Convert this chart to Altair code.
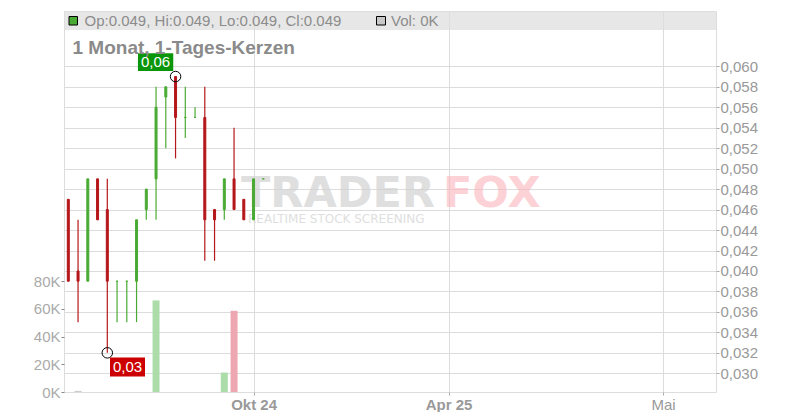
import altair as alt
import pandas as pd

# ---------------- data ----------------
idx = list(range(21))
opens  = [0.047, 0.040, 0.039, 0.049, 0.046, 0.039, 0.039, 0.039, 0.046, 0.049, 0.057,
          0.059, 0.055, 0.055, 0.055, 0.046, 0.046, 0.049, 0.047, 0.045, 0.049]
highs  = [0.047, 0.045, 0.049, 0.049, 0.049, 0.039, 0.039, 0.045, 0.048, 0.058, 0.058,
          0.059, 0.058, 0.056, 0.058, 0.046, 0.049, 0.054, 0.047, 0.049, 0.049]
lows   = [0.039, 0.035, 0.039, 0.045, 0.032, 0.035, 0.035, 0.035, 0.045, 0.045, 0.052,
          0.051, 0.053, 0.055, 0.041, 0.041, 0.045, 0.046, 0.045, 0.045, 0.049]
closes = [0.039, 0.039, 0.049, 0.045, 0.039, 0.039, 0.039, 0.045, 0.048, 0.056, 0.058,
          0.055, 0.055, 0.055, 0.045, 0.045, 0.049, 0.046, 0.045, 0.049, 0.049]
volumes = [0, 800, 0, 0, 0, 0, 0, 0, 0, 66000, 0, 0, 0, 0, 0, 0, 14000, 58500, 0, 0, 0]
vol_kind = ["flat", "flat", "up", "down", "down", "up", "up", "up", "up", "up", "up",
            "down", "up", "up", "down", "down", "up", "down", "down", "up", "up"]

price_ticks = [0.030, 0.032, 0.034, 0.036, 0.038, 0.040, 0.042, 0.044, 0.046, 0.048,
               0.050, 0.052, 0.054, 0.056, 0.058, 0.060]
vol_ticks = [0, 20000, 40000, 60000, 80000]
x_tick_pos = [19, 39, 61]
x_tick_labels = ["Okt 24", "Apr 25", "Mai"]
x_tick_bold = [True, True, False]

marker_idx = [11, 4]
marker_price = [0.059, 0.032]
marker_text = ["0,06", "0,03"]

legend_text = "Op:0.049, Hi:0.049, Lo:0.049, Cl:0.049"
vol_legend_text = "Vol: 0K"
title_text = "1 Monat, 1-Tages-Kerzen"

GREEN = "#4aab34"
RED = "#b5171b"

df = pd.DataFrame({"i": idx, "open": opens, "high": highs, "low": lows,
                   "close": closes, "vol": volumes, "vk": vol_kind})
df["dir"] = ["up" if c >= o else "down" for o, c in zip(opens, closes)]
df["btop"] = df[["open", "close"]].max(axis=1)
df["bbot"] = df[["open", "close"]].min(axis=1)

mk = pd.DataFrame({"i": marker_idx, "p": marker_price, "t": marker_text})
mk_hi = mk.iloc[[0]]
mk_lo = mk.iloc[[1]]

W, H = 652, 381

# ---------------- scales / axes ----------------
label_expr = " : ".join(
    f"datum.value == {p} ? '{l}'" for p, l in zip(x_tick_pos[:-1], x_tick_labels[:-1])
) + f" : '{x_tick_labels[-1]}'"
bold_test = " || ".join(f"datum.value == {p}" for p, b in zip(x_tick_pos, x_tick_bold) if b)

x_axis = alt.Axis(values=x_tick_pos, labelExpr=label_expr, title=None, grid=True,
                  gridColor="#dcdcdc", domain=False, tickColor="#aaaaaa", tickSize=3,
                  labelColor="#999999", labelFontSize=15, labelPadding=2,
                  labelFont="Liberation Sans",
                  labelFontWeight=alt.condition(bold_test, alt.value("bold"), alt.value("normal")))
x_scale = alt.Scale(domain=[-0.441, 66.43], nice=False, zero=False, padding=0)


def X():
    return alt.X("i:Q", scale=x_scale, axis=x_axis)


price_axis = alt.Axis(orient="right", values=price_ticks, title=None, grid=True,
                      gridColor="#dcdcdc", domain=False, tickColor="#aaaaaa", tickSize=3,
                      labelPadding=1, labelColor="#999999", labelFontSize=15,
                      labelFont="Liberation Sans",
                      labelExpr="replace(format(datum.value, '.3f'), '.', ',')")
price_scale = alt.Scale(domain=[0.028173, 0.065404], nice=False, zero=False, padding=0)


def Y(field):
    return alt.Y(field, scale=price_scale, axis=price_axis)


dir_color = alt.Scale(domain=["up", "down"], range=[GREEN, RED])

base = alt.Chart(df)

wicks = base.mark_bar(size=1.2, opacity=1).encode(
    x=X(), y=Y("low:Q"), y2="high:Q",
    fill=alt.Fill("dir:N", scale=dir_color, legend=None))

bodies = base.mark_bar(size=2, strokeWidth=1, opacity=1).encode(
    x=X(), y=Y("btop:Q"), y2="bbot:Q",
    fill=alt.Fill("dir:N", scale=dir_color, legend=None),
    stroke=alt.Stroke("dir:N", scale=dir_color, legend=None))

circles = alt.Chart(mk).mark_point(shape="circle", size=110, filled=False,
                                   stroke="black", strokeWidth=1, opacity=1).encode(
    x=X(), y=Y("p:Q"))

hi_box = alt.Chart(mk_hi).mark_rect(color="#0a960a", xOffset=-37.6, x2Offset=-2.3,
                                    yOffset=-23.2, y2Offset=-5.5).encode(
    x=X(), x2="i:Q", y=Y("p:Q"), y2="p:Q")
hi_txt = alt.Chart(mk_hi).mark_text(color="white", fontSize=15, font="Liberation Sans",
                                    dx=-20, dy=-14.4, baseline="middle").encode(
    x=X(), y=Y("p:Q"), text="t:N")

lo_box = alt.Chart(mk_lo).mark_rect(color="#cc0000", xOffset=2.7, x2Offset=37.7,
                                    yOffset=4.7, y2Offset=23.7).encode(
    x=X(), x2="i:Q", y=Y("p:Q"), y2="p:Q")
lo_txt = alt.Chart(mk_lo).mark_text(color="white", fontSize=15, font="Liberation Sans",
                                    dx=20.2, dy=14.2, baseline="middle").encode(
    x=X(), y=Y("p:Q"), text="t:N")

price_group = alt.layer(wicks, bodies, circles, hi_box, hi_txt, lo_box, lo_txt)

vol_scale = alt.Scale(domain=[0, 274600], nice=False, zero=True, padding=0)
vol_axis = alt.Axis(orient="left", values=vol_ticks, title=None, grid=False, domain=False,
                    tickColor="#888888", tickSize=3, labelPadding=1, labelColor="#aaaaaa",
                    labelFontSize=15, labelFont="Liberation Sans",
                    labelExpr="(datum.value / 1000) + 'K'")
vol_color = alt.Scale(domain=["up", "down", "flat"], range=["#abdca9", "#eca7b0", "#cccccc"])
vol_bars = base.mark_bar(size=7).encode(
    x=X(), y=alt.Y("vol:Q", scale=vol_scale, axis=vol_axis),
    color=alt.Color("vk:N", scale=vol_color, legend=None))

# ---------------- decorations ----------------
one = alt.Data(values=[{"a": 1}])
wm_trader = alt.Chart(one).mark_text(text="TRADER", font="DejaVu Sans", fontWeight="bold",
                                     fontSize=43, color="#d2d2d2", opacity=0.7,
                                     align="left", baseline="alphabetic").encode(
    x=alt.value(177), y=alt.value(196))
wm_fox = alt.Chart(one).mark_text(text="FOX", font="DejaVu Sans", fontWeight="bold",
                                  fontSize=43, color="#fbb5bc", opacity=0.6,
                                  align="left", baseline="alphabetic").encode(
    x=alt.value(379), y=alt.value(196))
wm_sub = alt.Chart(one).mark_text(text="REALTIME STOCK SCREENING", font="DejaVu Sans",
                                  fontSize=12, color="#d2d2d2", opacity=0.7,
                                  align="left", baseline="alphabetic").encode(
    x=alt.value(184), y=alt.value(212))

band = alt.Chart(one).mark_rect(fill="#dedede", opacity=0.72).encode(
    x=alt.value(0), x2=alt.value(W), y=alt.value(0), y2=alt.value(19))
sq1 = alt.Chart(one).mark_rect(fill=GREEN, stroke="black", strokeWidth=1).encode(
    x=alt.value(5), x2=alt.value(13.5), y=alt.value(5.5), y2=alt.value(14))
txt1 = alt.Chart(one).mark_text(text=legend_text, font="Liberation Sans", fontSize=15,
                                color="#8c8c8c", align="left", baseline="middle").encode(
    x=alt.value(20.5), y=alt.value(10))
sq2 = alt.Chart(one).mark_rect(fill="#c8c8c8", stroke="black", strokeWidth=1).encode(
    x=alt.value(312.5), x2=alt.value(321.5), y=alt.value(5.5), y2=alt.value(14))
txt2 = alt.Chart(one).mark_text(text=vol_legend_text, font="Liberation Sans", fontSize=15,
                                color="#8c8c8c", align="left", baseline="middle").encode(
    x=alt.value(327), y=alt.value(10))
title = alt.Chart(one).mark_text(text=title_text, font="Liberation Sans", fontSize=19,
                                 fontWeight="bold", color="#8a8a8a", align="left",
                                 baseline="alphabetic").encode(
    x=alt.value(8.5), y=alt.value(42.5))

deco_back = alt.layer(wm_trader, wm_fox, wm_sub, band)
deco_front = alt.layer(sq1, txt1, sq2, txt2, title)

chart = alt.layer(deco_back, vol_bars, price_group, deco_front).resolve_scale(
    y="independent"
).properties(
    width=W, height=H,
    autosize=alt.AutoSizeParams(type="none"),
    padding={"left": 56, "top": 3, "right": 76, "bottom": 20},
).configure_view(stroke="#b8b8b8", strokeWidth=1).configure(background="white")

chart.save("out.html", embed_options={"renderer": "svg", "actions": False})
